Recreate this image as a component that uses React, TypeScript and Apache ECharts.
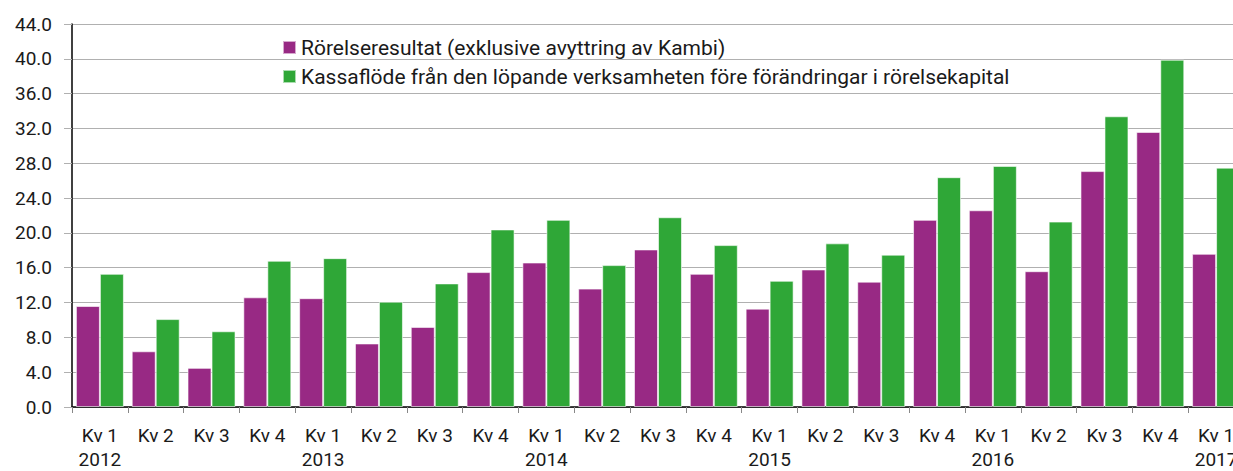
import React, { useEffect, useRef } from "react";
import * as echarts from "echarts";

const quarters = [
  "Kv 1", "Kv 2", "Kv 3", "Kv 4",
  "Kv 1", "Kv 2", "Kv 3", "Kv 4",
  "Kv 1", "Kv 2", "Kv 3", "Kv 4",
  "Kv 1", "Kv 2", "Kv 3", "Kv 4",
  "Kv 1", "Kv 2", "Kv 3", "Kv 4",
  "Kv 1",
];
const years = [
  "2012", "", "", "",
  "2013", "", "", "",
  "2014", "", "", "",
  "2015", "", "", "",
  "2016", "", "", "",
  "2017",
];
const rorelseresultat = [
  11.6, 6.4, 4.5, 12.6,
  12.5, 7.3, 9.2, 15.5,
  16.6, 13.6, 18.1, 15.3,
  11.3, 15.8, 14.4, 21.5,
  22.6, 15.6, 27.1, 31.6,
  17.6,
];
const kassaflode = [
  15.3, 10.1, 8.7, 16.8,
  17.1, 12.1, 14.2, 20.4,
  21.5, 16.3, 21.8, 18.6,
  14.5, 18.8, 17.5, 26.4,
  27.7, 21.3, 33.4, 39.9,
  27.5,
];
const seriesNames = [
  "Rörelseresultat (exklusive avyttring av Kambi)",
  "Kassaflöde från den löpande verksamheten före förändringar i rörelsekapital",
];

const categories = quarters.map((q, i) => (years[i] ? q + "\n" + years[i] : q));

export default function App() {
  const ref = useRef<HTMLDivElement>(null);
  useEffect(() => {
    document.body.style.margin = "0";
    document.body.style.overflow = "hidden";
    const chart = echarts.init(ref.current!, null, { renderer: "svg" });
    const font = "Roboto";
    chart.setOption({
      animation: false,
      textStyle: { fontFamily: font },
      legend: {
        orient: "vertical",
        left: 277,
        top: 32,
        itemWidth: 13,
        itemHeight: 13,
        itemGap: 8,
        itemTextGap: 3,
        icon: "rect",
        textStyle: { fontFamily: font, fontSize: 21, color: "#1a1a1a" },
        data: seriesNames,
      },
      grid: { left: 72, top: 24, bottom: 62, width: 1172, containLabel: false },
      xAxis: {
        type: "category",
        data: categories,
        axisLine: { lineStyle: { color: "#000", width: 1.5 } },
        axisTick: { show: true, length: 6, lineStyle: { color: "#888" } },
        axisLabel: {
          fontFamily: font,
          fontSize: 19,
          color: "#1a1a1a",
          lineHeight: 24,
          margin: 16,
          interval: 0,
        },
      },
      yAxis: {
        type: "value",
        min: 0,
        max: 44,
        interval: 4,
        axisLine: { show: true, lineStyle: { color: "#000", width: 1.5 } },
        axisTick: { show: true, length: 8, lineStyle: { color: "#b0b0b0" } },
        splitLine: { lineStyle: { color: "#b0b0b0", width: 1.2 } },
        axisLabel: {
          fontFamily: font,
          fontSize: 19,
          color: "#1a1a1a",
          margin: 20,
          formatter: (v: number) => v.toFixed(1),
        },
      },
      series: [
        {
          name: seriesNames[0],
          type: "bar",
          data: rorelseresultat,
          barGap: "0%",
          barCategoryGap: "14%",
          itemStyle: { color: "#982984", borderColor: "rgba(255,255,255,0.6)", borderWidth: 1 },
        },
        {
          name: seriesNames[1],
          type: "bar",
          data: kassaflode,
          barGap: "0%",
          barCategoryGap: "14%",
          itemStyle: { color: "#2fa737", borderColor: "rgba(255,255,255,0.6)", borderWidth: 1 },
        },
      ],
    });
    return () => chart.dispose();
  }, []);
  return <div ref={ref} style={{ width: 1260, height: 471 }} />;
}
